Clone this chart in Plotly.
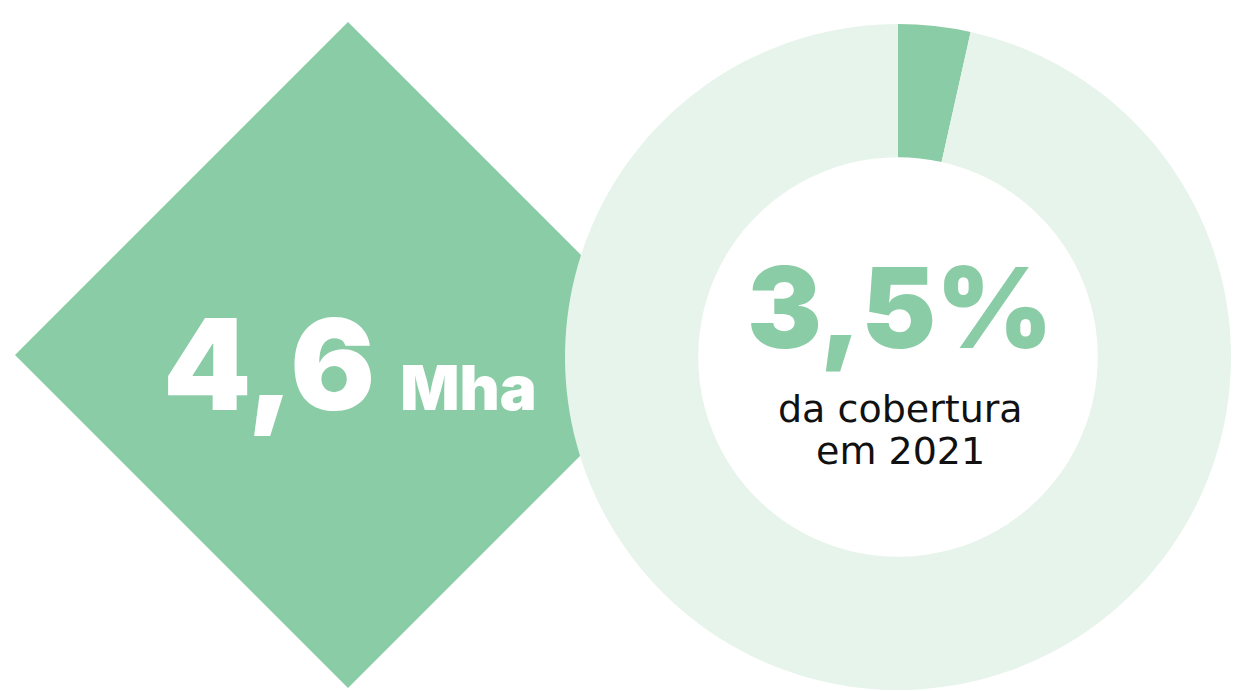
import plotly.graph_objects as go

W, H = 1240, 691

# Data
labels = ["Área", "Restante"]
values = [3.5, 96.5]
big_value = "4,6"
big_unit = "Mha"
pct_label = "3,5%"
caption_lines = ["da cobertura", "em 2021"]

GREEN = "#8ACCA5"
LIGHT = "#E7F4EB"

fig = go.Figure()

# Donut
cx, cy, R = 898, 357, 333
fig.add_trace(go.Pie(
    labels=labels, values=values, hole=0.6, sort=False, direction="clockwise",
    rotation=0, marker=dict(colors=[GREEN, LIGHT], line=dict(width=0)),
    textinfo="none", hoverinfo="label+value", showlegend=False,
    domain=dict(x=[(cx - R) / W, (cx + R) / W], y=[1 - (cy + R) / H, 1 - (cy - R) / H]),
))

# Diamond
dx, dy, d = 348, 355, 333
def px(x): return x / W
def py(y): return 1 - y / H
fig.add_shape(type="path", xref="paper", yref="paper", layer="below",
              path=f"M {px(dx)} {py(dy-d)} L {px(dx+d)} {py(dy)} L {px(dx)} {py(dy+d)} L {px(dx-d)} {py(dy)} Z",
              fillcolor=GREEN, line=dict(width=0))

FONT = "Inter"
fig.add_annotation(xref="paper", yref="paper", x=px(350), y=py(364), xanchor="center", yanchor="middle",
                   text=f"{big_value} <span style='font-size:62px'>{big_unit}</span>",
                   showarrow=False, font=dict(family=FONT, size=126, color="white", weight=900))
fig.add_annotation(xref="paper", yref="paper", x=px(900), y=py(307), xanchor="center", yanchor="middle",
                   text=pct_label, showarrow=False,
                   font=dict(family=FONT, size=112, color=GREEN, weight=900))
for i, line in enumerate(caption_lines):
    fig.add_annotation(xref="paper", yref="paper", x=px(900), y=py(409 + 42 * i), xanchor="center", yanchor="middle",
                       text=line, showarrow=False,
                       font=dict(family="DejaVu Sans", size=38, color="#111111", weight=400))

fig.update_layout(width=W, height=H, margin=dict(l=0, r=0, t=0, b=0),
                  paper_bgcolor="white", plot_bgcolor="white")
fig.write_html("out.html", config={"displayModeBar": False},
               post_script="document.body.style.margin='0';")
